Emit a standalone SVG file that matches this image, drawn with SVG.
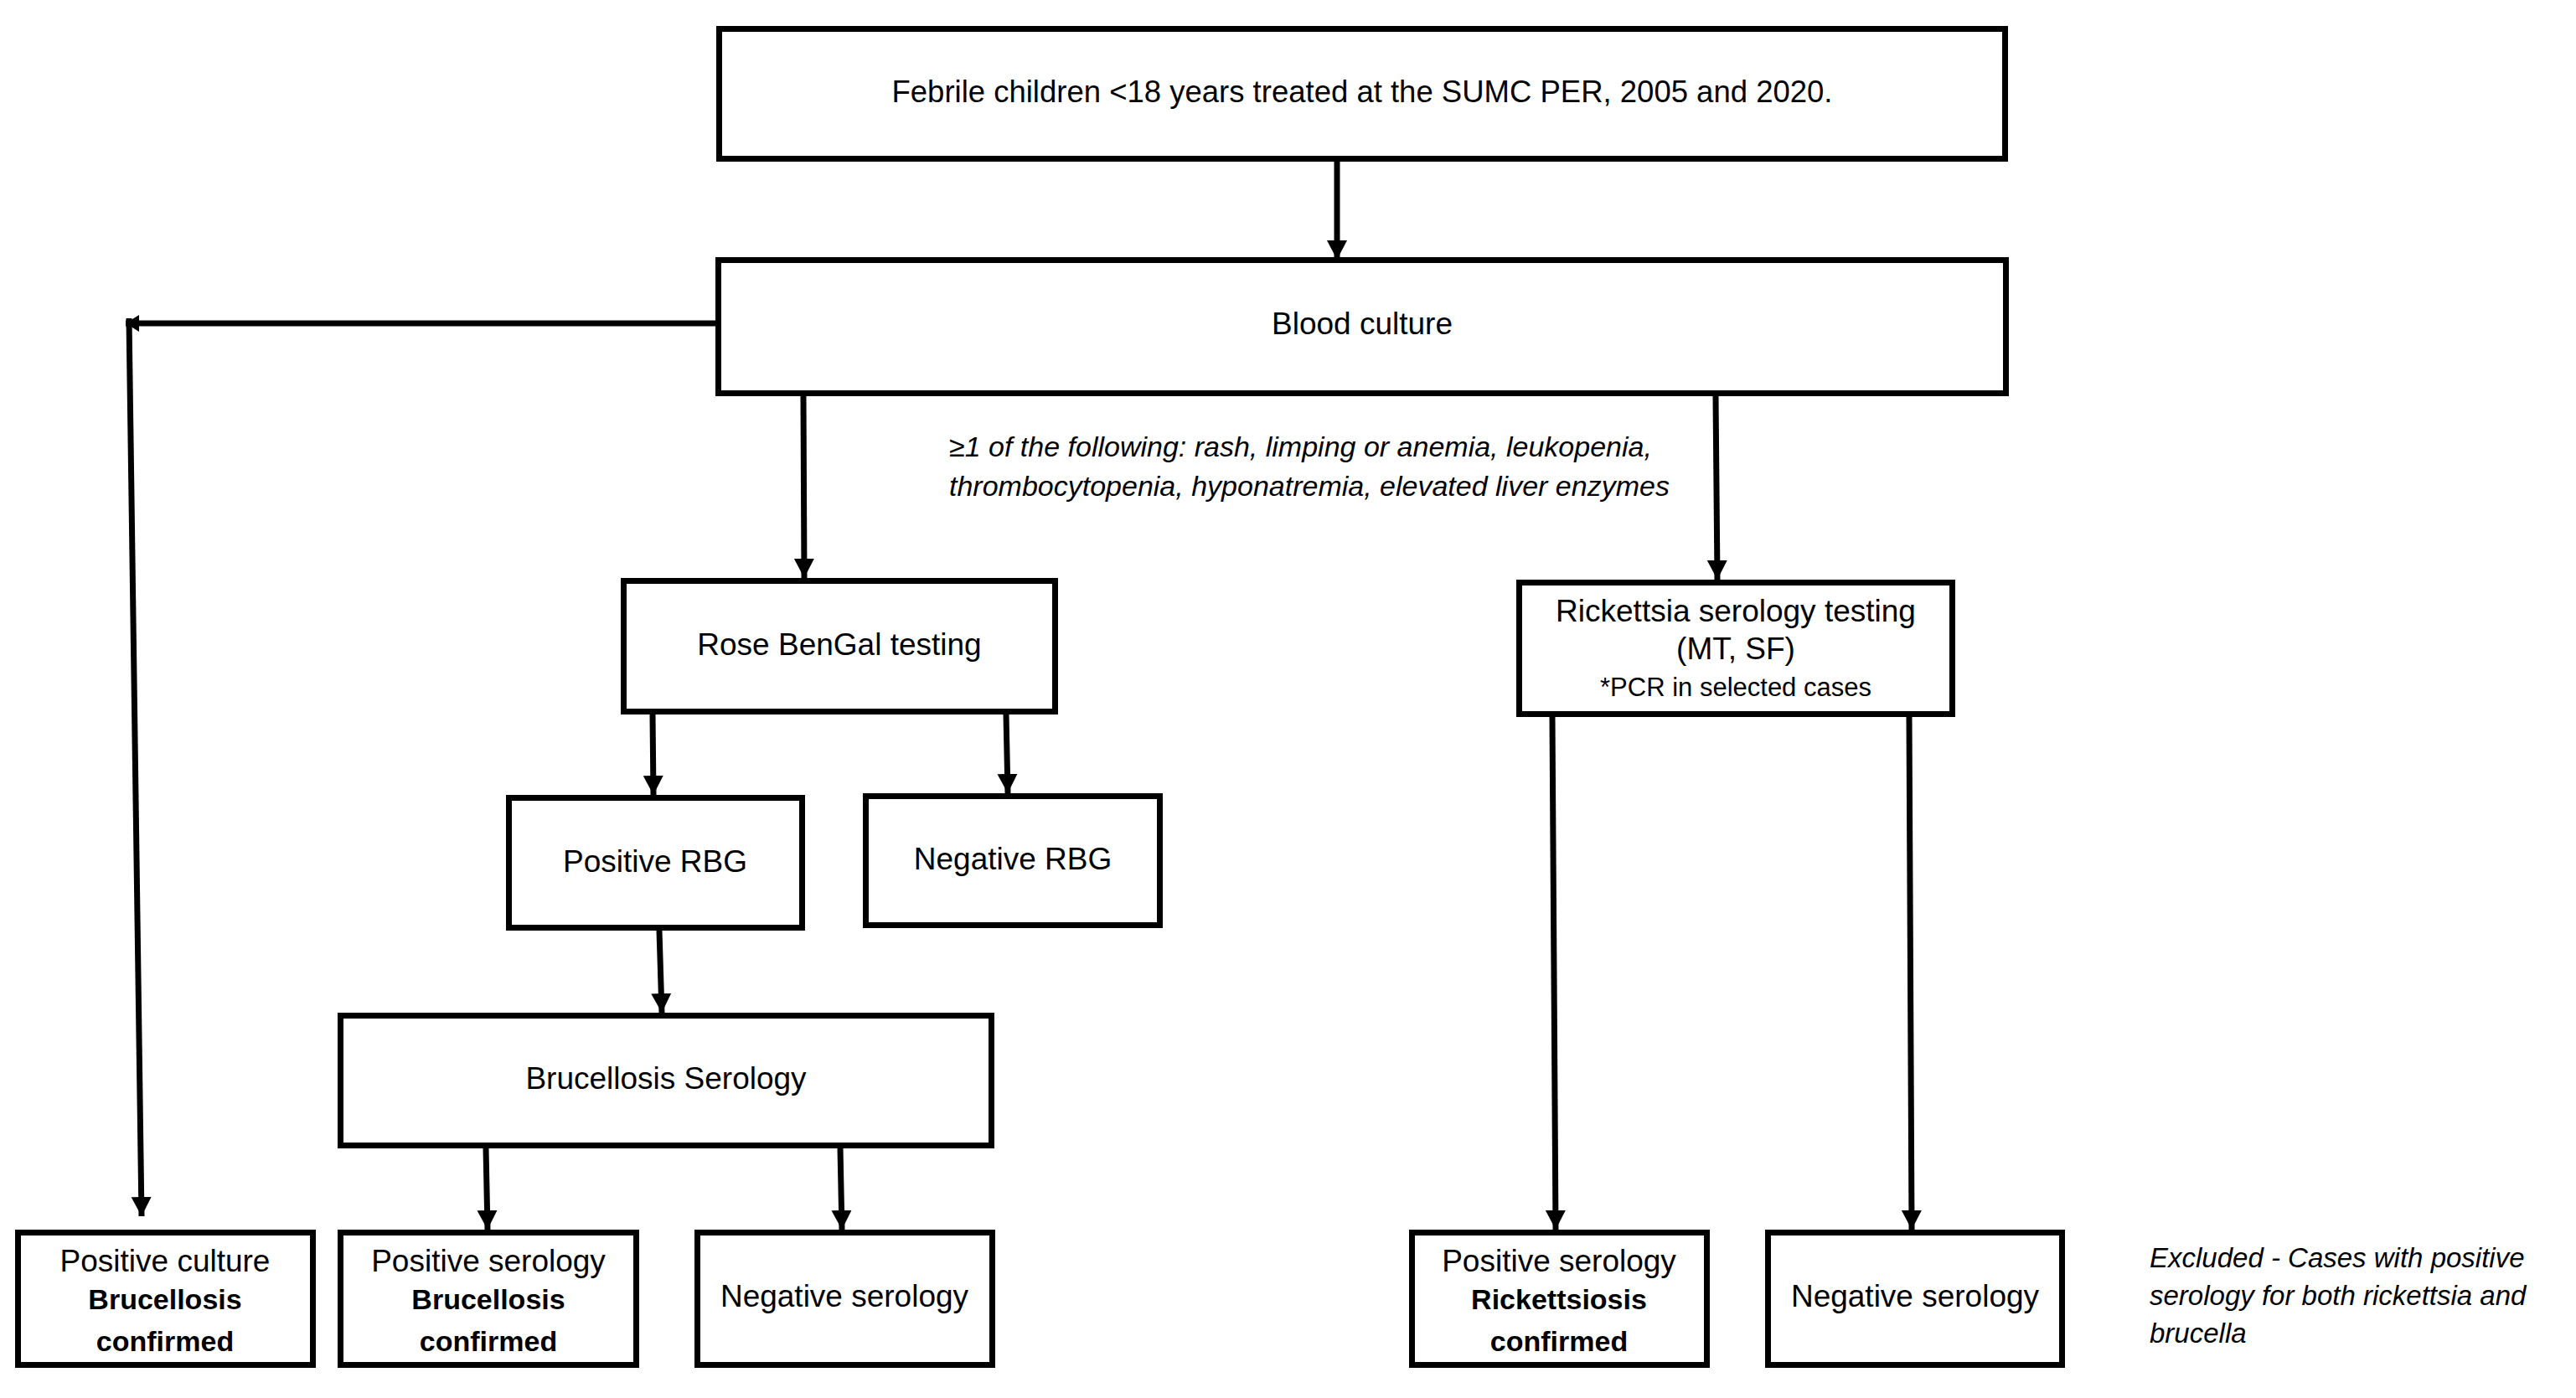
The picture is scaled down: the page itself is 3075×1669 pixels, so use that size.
<svg xmlns="http://www.w3.org/2000/svg" width="3075" height="1669" viewBox="0 0 3075 1669">
<style>
.box{fill:#fff;stroke:#000;stroke-width:7}
.t{font-family:"Liberation Sans",Arial,sans-serif;font-size:37px;fill:#000;text-anchor:middle}
.s{font-size:31px}
.b{font-weight:bold;font-size:34px}
.i{font-family:"Liberation Sans",Arial,sans-serif;font-style:italic;font-size:34px;fill:#000}
.c{fill:none;stroke:#000;stroke-width:7}
</style>
<defs>
<marker id="ah" markerUnits="userSpaceOnUse" markerWidth="26" markerHeight="26" viewBox="0 0 26 26" refX="23" refY="13" orient="auto">
<path d="M0,1 L23,13 L0,25 Z" fill="#000"/>
</marker>
<marker id="ahs" markerUnits="userSpaceOnUse" markerWidth="20" markerHeight="24" viewBox="0 0 20 24" refX="16" refY="12" orient="auto">
<path d="M0,2 L16,12 L0,22 Z" fill="#000"/>
</marker>
</defs>
<rect width="3075" height="1669" fill="#fff"/>
<g id="connectors">
<line class="c" x1="1596" y1="193" x2="1596" y2="310" marker-end="url(#ah)"/>
<line class="c" x1="857" y1="386" x2="150" y2="386" marker-end="url(#ahs)"/>
<line class="c" x1="154" y1="380" x2="169" y2="1452" marker-end="url(#ah)"/>
<line class="c" x1="959" y1="473" x2="960" y2="690" marker-end="url(#ah)"/>
<line class="c" x1="2048" y1="473" x2="2050" y2="692" marker-end="url(#ah)"/>
<line class="c" x1="779" y1="853" x2="780" y2="949" marker-end="url(#ah)"/>
<line class="c" x1="1201" y1="853" x2="1203" y2="947" marker-end="url(#ah)"/>
<line class="c" x1="787" y1="1111" x2="790" y2="1209" marker-end="url(#ah)"/>
<line class="c" x1="580" y1="1371" x2="582" y2="1468" marker-end="url(#ah)"/>
<line class="c" x1="1003" y1="1371" x2="1005" y2="1468" marker-end="url(#ah)"/>
<line class="c" x1="1853" y1="856" x2="1857" y2="1468" marker-end="url(#ah)"/>
<line class="c" x1="2279" y1="856" x2="2282" y2="1468" marker-end="url(#ah)"/>
</g>
<g id="n-top"><rect class="box" x="858.5" y="34.5" width="1535" height="155"/><text class="t" x="1626" y="122" style="font-size:36.5px">Febrile children &lt;18 years treated at the SUMC PER, 2005 and 2020.</text></g>
<g id="n-blood"><rect class="box" x="857.5" y="310.5" width="1537" height="159"/><text class="t" x="1626" y="399">Blood culture</text></g>
<g id="n-criteria"><text class="i" x="1133" y="545">≥1 of the following: rash, limping or anemia, leukopenia,</text><text class="i" x="1133" y="592">thrombocytopenia, hyponatremia, elevated liver enzymes</text></g>
<g id="n-rose"><rect class="box" x="744.5" y="693.5" width="515" height="156"/><text class="t" x="1002" y="782">Rose BenGal testing</text></g>
<g id="n-posrbg"><rect class="box" x="607.5" y="952.5" width="350" height="155"/><text class="t" x="782" y="1041">Positive RBG</text></g>
<g id="n-negrbg"><rect class="box" x="1033.5" y="950.5" width="351" height="154"/><text class="t" x="1209" y="1038">Negative RBG</text></g>
<g id="n-brucser"><rect class="box" x="406.5" y="1212.5" width="777" height="155"/><text class="t" x="795" y="1300">Brucellosis Serology</text></g>
<g id="n-rick"><rect class="box" x="1813.5" y="695.5" width="517" height="157"/><text class="t" x="2072" y="742">Rickettsia serology testing</text><text class="t" x="2072" y="787">(MT, SF)</text><text class="t s" x="2072" y="831">*PCR in selected cases</text></g>
<g id="n-posculture"><rect class="box" x="21.5" y="1471.5" width="352" height="158"/><text class="t" x="197" y="1518">Positive culture</text><text class="t b" x="197" y="1563">Brucellosis</text><text class="t b" x="197" y="1613">confirmed</text></g>
<g id="n-posserb"><rect class="box" x="406.5" y="1471.5" width="353" height="158"/><text class="t" x="583" y="1518">Positive serology</text><text class="t b" x="583" y="1563">Brucellosis</text><text class="t b" x="583" y="1613">confirmed</text></g>
<g id="n-negserb"><rect class="box" x="832.5" y="1471.5" width="352" height="158"/><text class="t" x="1008" y="1560">Negative serology</text></g>
<g id="n-posserr"><rect class="box" x="1685.5" y="1471.5" width="352" height="158"/><text class="t" x="1861" y="1518">Positive serology</text><text class="t b" x="1861" y="1563">Rickettsiosis</text><text class="t b" x="1861" y="1613">confirmed</text></g>
<g id="n-negserr"><rect class="box" x="2110.5" y="1471.5" width="351" height="158"/><text class="t" x="2286" y="1560">Negative serology</text></g>
<g id="n-excluded"><text class="i" x="2566" y="1513" style="font-size:33px">Excluded - Cases with positive</text><text class="i" x="2566" y="1558" style="font-size:33px">serology for both rickettsia and</text><text class="i" x="2566" y="1603" style="font-size:33px">brucella</text></g>
</svg>
